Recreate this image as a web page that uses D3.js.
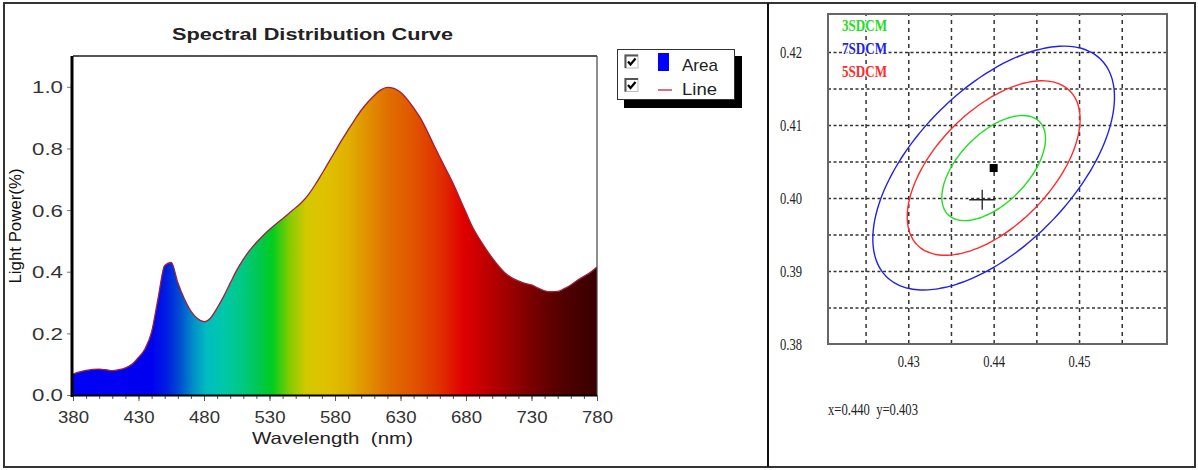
<!DOCTYPE html>
<html><head><meta charset="utf-8">
<script src="https://cdn.jsdelivr.net/npm/d3@7"></script>
<style>body{margin:0;background:#fff}svg{display:block}</style>
</head><body><svg id="c" width="1198" height="470"></svg>
<script>
// ---------- Spectral distribution data ----------
const wavelengths = [380,385,390,395,400,405,410,415,420,425,430,435,440,445,450,455,460,465,470,475,480,485,490,495,500,505,510,515,520,525,530,535,540,545,550,555,560,565,570,575,580,585,590,595,600,605,610,615,620,625,630,635,640,645,650,655,660,665,670,675,680,685,690,695,700,705,710,715,720,725,730,735,740,745,750,755,760,765,770,775,780];
const power = [0.068,0.075,0.080,0.083,0.084,0.082,0.079,0.082,0.088,0.100,0.122,0.150,0.205,0.315,0.420,0.430,0.365,0.312,0.272,0.248,0.238,0.250,0.282,0.320,0.363,0.405,0.440,0.470,0.495,0.517,0.537,0.555,0.572,0.590,0.608,0.627,0.652,0.683,0.718,0.754,0.790,0.826,0.860,0.893,0.924,0.950,0.972,0.990,0.998,0.995,0.982,0.960,0.932,0.900,0.860,0.815,0.772,0.730,0.688,0.640,0.592,0.545,0.508,0.475,0.445,0.418,0.395,0.380,0.370,0.362,0.357,0.347,0.338,0.335,0.336,0.345,0.357,0.372,0.385,0.398,0.415];
const xTickValues = [380,430,480,530,580,630,680,730,780];
const xMinorTickValues = [380,390,400,410,420,430,440,450,460,470,480,490,500,510,520,530,540,550,560,570,580,590,600,610,620,630,640,650,660,670,680,690,700,710,720,730,740,750,760,770,780];
const yTickValues = [0.0,0.2,0.4,0.6,0.8,1.0];
const legendItems = ["Area","Line"];
const chartTitle = "Spectral Distribution Curve";
const xTitle = "Wavelength  (nm)";
const yTitle = "Light Power(%)";
const spectrumStopNm = [380,440,452,462,472,482,495,510,522,532,545,558,575,590,605,620,640,660,678,695,715,735,755,780];
const spectrumStopColor = ["#0000f5","#0000f0","#0020e0","#0050d0","#0090c8","#00bcc0","#00c8a8","#00c880","#00c850","#00cc20","#80cc00","#d4c800","#e0c000","#e0b000","#e09000","#e07000","#e05400","#e03000","#e00000","#c00000","#980000","#700000","#500000","#380000"];

// ---------- Chromaticity data ----------
const cieXTicks = [0.43,0.44,0.45];
const cieYTicks = [0.38,0.39,0.40,0.41,0.42];
const cieXGrid = [0.425,0.43,0.435,0.44,0.445,0.45,0.455];
const cieYGrid = [0.385,0.39,0.395,0.40,0.405,0.41,0.415,0.42];
const ellipseNames = ["3SDCM","7SDCM","5SDCM"];
const ellipseColors = ["#22dd22","#2222e6","#ff2a2a"];
const ellipseHalfX = [0.00607,0.01415,0.01012];
const ellipseHalfY = [0.00720,0.01670,0.01195];
const ellipseTiltDeg = [56,54.5,56];
const ellipseCenter = [0.4400,0.4041];
const testPoint = [0.43866,0.39976];
const readoutText = "x=0.440  y=0.403";

const svg = d3.select("#c");

// ---------- Frames ----------
svg.append("rect").attr("x",4).attr("y",3).attr("width",1191).attr("height",464)
  .attr("fill","none").attr("stroke","#333").attr("stroke-width",2);
svg.append("line").attr("x1",768).attr("x2",768).attr("y1",3).attr("y2",467)
  .attr("stroke","#111").attr("stroke-width",2);

// ---------- Left chart ----------
const x = d3.scaleLinear().domain([380,780]).range([73,597]);
const y = d3.scaleLinear().domain([0,1.1]).range([395,56]);
const sans = "'Liberation Sans', Arial, sans-serif";
const serif = "'Liberation Serif', 'Times New Roman', serif";

const defs = svg.append("defs");
const grad = defs.append("linearGradient").attr("id","spec")
  .attr("gradientUnits","userSpaceOnUse")
  .attr("x1",x(380)).attr("x2",x(780)).attr("y1",0).attr("y2",0);
spectrumStopNm.forEach((nm,i)=>{
  grad.append("stop").attr("offset",(nm-380)/400).attr("stop-color",spectrumStopColor[i]);
});

const pts = wavelengths.map((w,i)=>[w,power[i]]);
const area = d3.area().x(d=>x(d[0])).y0(y(0)).y1(d=>y(d[1])).curve(d3.curveMonotoneX);
const line = d3.line().x(d=>x(d[0])).y(d=>y(d[1])).curve(d3.curveMonotoneX);
svg.append("path").attr("d",area(pts)).attr("fill","url(#spec)");
svg.append("path").attr("d",line(pts)).attr("fill","none").attr("stroke","#a02038").attr("stroke-width",1.3);

// plot border
svg.append("line").attr("x1",73).attr("x2",597).attr("y1",56).attr("y2",56).attr("stroke","#555").attr("stroke-width",2);
svg.append("line").attr("x1",597).attr("x2",597).attr("y1",56).attr("y2",395).attr("stroke","#444").attr("stroke-width",1.2);

// y axis
const gy = svg.append("g").attr("transform",`translate(${x(380)-1},0)`)
  .call(d3.axisLeft(y).tickValues(yTickValues).tickFormat(d3.format(".1f")).tickSize(5).tickPadding(4));
gy.select(".domain").remove();
gy.selectAll(".tick line").attr("stroke","#777");
gy.selectAll("text").attr("font-family",sans).attr("font-size",16.5).attr("fill","#333")
  .attr("textLength",31).attr("lengthAdjust","spacingAndGlyphs").attr("dy","0.36em");
svg.append("line").attr("x1",72).attr("x2",72).attr("y1",56).attr("y2",397).attr("stroke","#000").attr("stroke-width",3);

// x axis
const gxm = svg.append("g").attr("transform",`translate(0,${y(0)})`)
  .call(d3.axisBottom(x).tickValues(xMinorTickValues).tickSize(4).tickFormat(""));
gxm.select(".domain").remove();
gxm.selectAll(".tick line").attr("stroke","#555");
const gx = svg.append("g").attr("transform",`translate(0,${y(0)})`)
  .call(d3.axisBottom(x).tickValues(xTickValues).tickSize(6).tickFormat(d3.format("d")));
gx.select(".domain").remove();
gx.selectAll(".tick line").attr("stroke","#555");
gx.selectAll("text").attr("font-family",sans).attr("font-size",16.5).attr("fill","#333")
  .attr("dy",null).attr("y",28).attr("textLength",31).attr("lengthAdjust","spacingAndGlyphs");
svg.append("line").attr("x1",71).attr("x2",597).attr("y1",395.5).attr("y2",395.5).attr("stroke","#000").attr("stroke-width",2);

// titles
svg.append("text").attr("x",312.5).attr("y",40).attr("text-anchor","middle")
  .attr("font-family",sans).attr("font-weight","bold").attr("font-size",16.5).attr("fill","#222")
  .attr("textLength",281).attr("lengthAdjust","spacingAndGlyphs").text(chartTitle);
svg.append("text").attr("x",332.5).attr("y",444).attr("text-anchor","middle")
  .attr("font-family",sans).attr("font-size",16.5).attr("fill","#222").style("white-space","pre")
  .attr("textLength",161).attr("lengthAdjust","spacingAndGlyphs").text(xTitle);
svg.append("text").attr("transform","translate(21,226) rotate(-90)").attr("text-anchor","middle")
  .attr("font-family",sans).attr("font-size",16.5).attr("fill","#111")
  .attr("textLength",115).attr("lengthAdjust","spacingAndGlyphs").text(yTitle);

// legend
svg.append("rect").attr("x",624).attr("y",56).attr("width",118).attr("height",52).attr("fill","#000");
svg.append("rect").attr("x",617.5).attr("y",49.5).attr("width",117).attr("height",50)
  .attr("fill","#fff").attr("stroke","#333").attr("stroke-width",1);
legendItems.forEach((name,i)=>{
  const cy0 = 55 + i*23.5;
  const cb = svg.append("g").attr("transform",`translate(625,${cy0})`);
  cb.append("rect").attr("x",0).attr("y",0).attr("width",13).attr("height",13).attr("fill","#fff").attr("stroke","#bbb");
  cb.append("path").attr("d","M0.5,13 V0.5 H13").attr("fill","none").attr("stroke","#555").attr("stroke-width",2);
  cb.append("path").attr("d","M3,6.5 L5.5,9.5 L10.5,3.5").attr("fill","none").attr("stroke","#000").attr("stroke-width",2.2);
  if(i===0){
    svg.append("rect").attr("x",658).attr("y",53).attr("width",11).attr("height",18).attr("fill","#0000ff");
  } else {
    svg.append("line").attr("x1",658).attr("x2",672).attr("y1",90).attr("y2",90).attr("stroke","#d04050").attr("stroke-width",1.5);
  }
  svg.append("text").attr("x",682).attr("y",70.5 + i*24.5).attr("font-family",sans).attr("font-size",17)
    .attr("fill","#222").attr("textLength",i===0?36:35).attr("lengthAdjust","spacingAndGlyphs").text(name);
});

// ---------- Right chart ----------
const cx = d3.scaleLinear().domain([0.4206,0.4603]).range([828,1167]);
const cy = d3.scaleLinear().domain([0.3800,0.4252]).range([344,14]);

// grid via axes
const gvx = svg.append("g").attr("transform",`translate(0,${cy.range()[0]})`)
  .call(d3.axisBottom(cx).tickValues(cieXGrid).tickSize(-(cy.range()[0]-cy.range()[1])).tickFormat(""));
gvx.select(".domain").remove();
gvx.selectAll(".tick line").attr("stroke","#333").attr("stroke-width",1.5).attr("stroke-dasharray","4,4");
const gvy = svg.append("g").attr("transform",`translate(${cx.range()[0]},0)`)
  .call(d3.axisLeft(cy).tickValues(cieYGrid).tickSize(-(cx.range()[1]-cx.range()[0])).tickFormat(""));
gvy.select(".domain").remove();
gvy.selectAll(".tick line").attr("stroke","#333").attr("stroke-width",1.5).attr("stroke-dasharray","3,2.5");

// tick labels
const lx = svg.append("g").attr("transform",`translate(0,${cy.range()[0]})`)
  .call(d3.axisBottom(cx).tickValues(cieXTicks).tickSize(0).tickFormat(d3.format(".2f")));
lx.select(".domain").remove();
lx.selectAll("text").attr("font-family",serif).attr("font-size",17).attr("fill","#222")
  .attr("dy",null).attr("y",22.5).attr("textLength",22).attr("lengthAdjust","spacingAndGlyphs");
const ly = svg.append("g").attr("transform",`translate(${cx.range()[0]},0)`)
  .call(d3.axisLeft(cy).tickValues(cieYTicks).tickSize(0).tickPadding(26).tickFormat(d3.format(".2f")));
ly.select(".domain").remove();
ly.selectAll("text").attr("font-family",serif).attr("font-size",17).attr("fill","#222")
  .attr("dy","0.33em").attr("textLength",22).attr("lengthAdjust","spacingAndGlyphs");

// ellipses
const tSteps = d3.range(0, 361, 3).map(a=>a*Math.PI/180);
ellipseNames.forEach((name,i)=>{
  const phi = ellipseTiltDeg[i]*Math.PI/180;
  const ring = tSteps.map(t=>[
    cx(ellipseCenter[0] + ellipseHalfX[i]*Math.cos(t)),
    cy(ellipseCenter[1] + ellipseHalfY[i]*Math.cos(t - phi))
  ]);
  svg.append("path").attr("d",d3.line().curve(d3.curveCardinalClosed)(ring.slice(0,-1)))
    .attr("fill","none").attr("stroke",ellipseColors[i]).attr("stroke-width",1.4);
  svg.append("text").attr("x",842).attr("y",31 + i*23).attr("font-family",serif).attr("font-weight","bold")
    .attr("font-size",17.5).attr("fill",ellipseColors[i])
    .attr("stroke","#fff").attr("stroke-width",3).attr("paint-order","stroke")
    .attr("textLength",45).attr("lengthAdjust","spacingAndGlyphs").text(name);
});

// center square and test point cross
svg.append("rect").attr("x",cx(ellipseCenter[0])-4).attr("y",cy(ellipseCenter[1])-4)
  .attr("width",8).attr("height",8).attr("fill","#000");
const tpx = cx(testPoint[0]), tpy = cy(testPoint[1]);
svg.append("path").attr("d",`M${tpx-13},${tpy}H${tpx+13}M${tpx},${tpy-10}V${tpy+10}`)
  .attr("stroke","#222").attr("stroke-width",1.3).attr("fill","none");

// frame
svg.append("rect").attr("x",828).attr("y",14).attr("width",339).attr("height",330)
  .attr("fill","none").attr("stroke","#666").attr("stroke-width",2);

// readout
svg.append("text").attr("x",828).attr("y",415).attr("font-family",serif).attr("font-size",16).attr("fill","#222")
  .style("white-space","pre").attr("textLength",90).attr("lengthAdjust","spacingAndGlyphs").text(readoutText);
</script></body></html>
